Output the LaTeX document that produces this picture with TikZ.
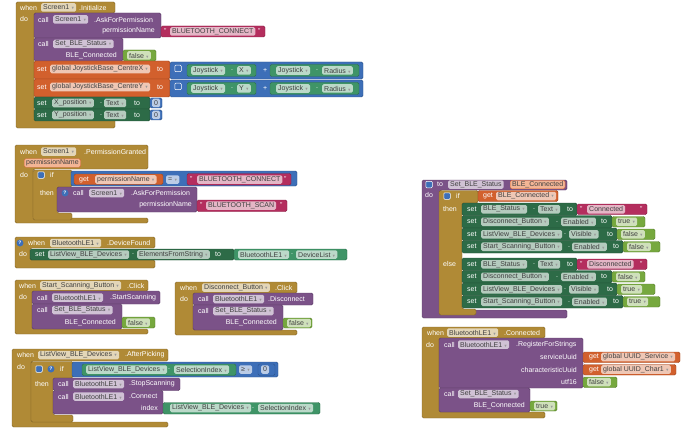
\documentclass[tikz,border=0pt]{standalone}
\usepackage{amssymb}
\usepackage{fontspec}
\setsansfont{Liberation Sans}
\usepackage{xcolor}
\usetikzlibrary{positioning}
\definecolor{evtgold}{HTML}{B08A36}
\definecolor{procpurple}{HTML}{7B5288}
\definecolor{setgreen}{HTML}{2D6B47}
\definecolor{getgreen}{HTML}{3F9467}
\definecolor{logicgreen}{HTML}{76A83E}
\definecolor{textpink}{HTML}{B42E5E}
\definecolor{mathblue}{HTML}{3D6FB8}
\definecolor{varorange}{HTML}{D2602D}
\definecolor{paramfill}{HTML}{F3B595}
\newcommand{\blkfont}{\sffamily\fontsize{7}{8}\selectfont}
\newcommand{\dd}{\hspace{2pt}{\color{black!40}\scalebox{0.55}{$\blacktriangledown$}}}

\begin{document}
\begin{tikzpicture}[
    x=1pt, y=-1pt,
    evt/.style={fill=evtgold, draw=evtgold!75!black, line width=0.4pt, rounded corners=1.5pt},
    proc/.style={evt, fill=procpurple, draw=procpurple!75!black},
    setb/.style={evt, fill=setgreen, draw=setgreen!75!black},
    getb/.style={evt, fill=getgreen, draw=getgreen!75!black},
    logic/.style={evt, fill=logicgreen, draw=logicgreen!75!black},
    txt/.style={evt, fill=textpink, draw=textpink!75!black},
    mathb/.style={evt, fill=mathblue, draw=mathblue!75!black},
    var/.style={evt, fill=varorange, draw=varorange!75!black},
    lbl/.style={text=white, font=\blkfont, inner sep=0pt, anchor=west},
    lble/.style={lbl, anchor=east},
    fld/.style={fill=white, fill opacity=0.65, text opacity=1, text=black!75, rounded corners=1.5pt, inner xsep=2pt, inner ysep=1pt, font=\blkfont, anchor=west, minimum height=8.5pt},
    prm/.style={fld, fill=paramfill, fill opacity=1, draw=varorange},
    gear/.style={fill=mathblue, draw=white, line width=0.5pt, rounded corners=1pt, minimum size=6.5pt, inner sep=0pt},
    qicon/.style={circle, fill=mathblue, text=white, font=\sffamily\bfseries\fontsize{5}{5}\selectfont, inner sep=0pt, minimum size=7pt}
]
\useasboundingbox (0,0) rectangle (690,433);

% Screen1.Initialize
\draw[evt] (16,2) -- (115,2) -- (115,13) -- (34,13) -- (34,118) -- (115,118) -- (115,128) -- (16,128) -- cycle;
\node[lbl] (a1) at (20,7.5) {when};
\node[fld] (a2) at (41,7.5) {Screen1\dd};
\node[lbl] (a3) at (79,7.5) {.Initialize};
\node[lbl] (a4) at (20,19) {do};
\draw[proc] (34,13) rectangle (161,38);
\node[lbl] (a5) at (38,19.5) {call};
\node[fld] (a6) at (53,19.5) {Screen1\dd};
\node[lbl] (a7) at (94,19.5) {.AskForPermission};
\node[lble] (a8) at (155,31) {permissionName};
\draw[txt] (161,26) rectangle (265,37);
\node[lbl] (a9) at (164,31.5) {"};
\node[fld] (a10) at (170,31.5) {BLUETOOTH\_CONNECT};
\node[lbl] (a11) at (258,31.5) {"};
\draw[proc] (34,38) rectangle (123,61);
\node[lbl] (a12) at (38,44) {call};
\node[fld] (a13) at (53,44) {Set\_BLE\_Status\dd};
\node[lble] (a14) at (117,55.5) {BLE\_Connected};
\draw[logic] (123,50) rectangle (156,61);
\node[fld] (a15) at (127,55.5) {false\dd};
\draw[var] (34,61) rectangle (170,79);
\node[lbl] (a16) at (37,69) {set};
\node[fld] (a17) at (50,69) {global JoystickBase\_CentreX\dd};
\node[lbl] (a18) at (157,69) {to};
\draw[mathb] (170,62) rectangle (363,79);
\node[gear] (a19) at (178,68.5) {};
\draw[getb] (187,64.5) rectangle (256,76.5);
\node[fld] (a20) at (191,70.5) {Joystick\dd};
\node[lbl] (a21) at (231,70.5) {.};
\node[fld] (a22) at (237,70.5) {X\dd};
\node[lbl] (a23) at (263,70.5) {+};
\draw[getb] (270,64.5) rectangle (359,76.5);
\node[fld] (a24) at (276,70.5) {Joystick\dd};
\node[lbl] (a25) at (316,70.5) {.};
\node[fld] (a26) at (322,70.5) {Radius\dd};
\draw[var] (34,79) rectangle (170,97);
\node[lbl] (a27) at (37,87) {set};
\node[fld] (a28) at (50,87) {global JoystickBase\_CentreY\dd};
\node[lbl] (a29) at (157,87) {to};
\draw[mathb] (170,80) rectangle (363,97);
\node[gear] (a30) at (178,86.5) {};
\draw[getb] (187,82.5) rectangle (256,94.5);
\node[fld] (a31) at (191,88.5) {Joystick\dd};
\node[lbl] (a32) at (231,88.5) {.};
\node[fld] (a33) at (237,88.5) {Y\dd};
\node[lbl] (a34) at (263,88.5) {+};
\draw[getb] (270,82.5) rectangle (359,94.5);
\node[fld] (a35) at (276,88.5) {Joystick\dd};
\node[lbl] (a36) at (316,88.5) {.};
\node[fld] (a37) at (322,88.5) {Radius\dd};
\draw[setb] (34,97) rectangle (150,109);
\node[lbl] (a38) at (37,103) {set};
\node[fld] (a39) at (52,103) {X\_position\dd};
\node[lbl] (a40) at (100,103) {.};
\node[fld] (a41) at (104,103) {Text\dd};
\node[lbl] (a42) at (134,103) {to};
\draw[mathb] (150,98) rectangle (162,108);
\node[fld] (a43) at (152,103) {0};
\draw[setb] (34,109) rectangle (150,121);
\node[lbl] (a44) at (37,115) {set};
\node[fld] (a45) at (52,115) {Y\_position\dd};
\node[lbl] (a46) at (100,115) {.};
\node[fld] (a47) at (104,115) {Text\dd};
\node[lbl] (a48) at (134,115) {to};
\draw[mathb] (150,110) rectangle (162,120);
\node[fld] (a49) at (152,115) {0};

% Screen1.PermissionGranted
\draw[evt] (15,145) -- (148,145) -- (148,169) -- (33,169) -- (33,218) -- (148,218) -- (148,223) -- (15,223) -- cycle;
\node[lbl] (b1) at (20,151.5) {when};
\node[fld] (b2) at (41,151.5) {Screen1\dd};
\node[lbl] (b3) at (84,151.5) {.PermissionGranted};
\node[prm] (b4) at (24,163) {permissionName};
\node[lbl] (b5) at (20,175) {do};
\draw[evt] (33,170) -- (72,170) -- (72,187) -- (57,187) -- (57,213) -- (72,213) -- (72,220) -- (33,220) -- cycle;
\node[gear] (b6) at (41,175) {};
\node[lbl] (b7) at (50,175) {if};
\node[lbl] (b8) at (40,193) {then};
\draw[mathb] (71,171) rectangle (297,186);
\draw[var] (74,174) rectangle (163,184.5);
\node[lbl] (b9) at (79,179.5) {get};
\node[fld] (b10) at (95,179.5) {permissionName\dd};
\node[fld] (b11) at (166,179.5) {=\dd};
\draw[txt] (187,173.5) rectangle (291,185);
\node[lbl] (b12) at (190,179.5) {"};
\node[fld] (b13) at (197,179.5) {BLUETOOTH\_CONNECT};
\node[lbl] (b14) at (284,179.5) {"};
\draw[proc] (57,187) rectangle (197,212);
\node[qicon] (b15) at (65,193) {?};
\node[lbl] (b16) at (73,193) {call};
\node[fld] (b17) at (89,193) {Screen1\dd};
\node[lbl] (b18) at (131,193) {.AskForPermission};
\node[lble] (b19) at (192,205) {permissionName};
\draw[txt] (197,200) rectangle (287,211.5);
\node[lbl] (b20) at (200,205.5) {"};
\node[fld] (b21) at (206,205.5) {BLUETOOTH\_SCAN};
\node[lbl] (b22) at (280,205.5) {"};

% BluetoothLE1.DeviceFound
\draw[evt] (15,237) -- (155,237) -- (155,248) -- (30,248) -- (30,260) -- (155,260) -- (155,268) -- (15,268) -- cycle;
\node[qicon] (c1) at (20,243) {?};
\node[lbl] (c2) at (28,243) {when};
\node[fld] (c3) at (50,243) {BluetoothLE1\dd};
\node[lbl] (c4) at (107,243) {.DeviceFound};
\node[lbl] (c5) at (19,254) {do};
\draw[setb] (30,249) rectangle (234,260);
\node[lbl] (c6) at (35,254.5) {set};
\node[fld] (c7) at (48,254.5) {ListView\_BLE\_Devices\dd};
\node[lbl] (c8) at (132,254.5) {.};
\node[fld] (c9) at (137,254.5) {ElementsFromString\dd};
\node[lbl] (c10) at (215,254.5) {to};
\draw[getb] (234,249) rectangle (347,260);
\node[fld] (c11) at (238,254.5) {BluetoothLE1\dd};
\node[lbl] (c12) at (291,254.5) {.};
\node[fld] (c13) at (296,254.5) {DeviceList\dd};

% Start_Scanning_Button.Click
\draw[evt] (15,280) -- (148,280) -- (148,291) -- (32,291) -- (32,329) -- (148,329) -- (148,334) -- (15,334) -- cycle;
\node[lbl] (d1) at (19,285.5) {when};
\node[fld] (d2) at (40,285.5) {Start\_Scanning\_Button\dd};
\node[lbl] (d3) at (127,285.5) {.Click};
\node[lbl] (d4) at (19,296.5) {do};
\draw[proc] (32,291) rectangle (160,304);
\node[lbl] (d5) at (37,297.5) {call};
\node[fld] (d6) at (52,297.5) {BluetoothLE1\dd};
\node[lbl] (d7) at (110,297.5) {.StartScanning};
\draw[proc] (32,304) rectangle (122,329);
\node[lbl] (d8) at (37,310) {call};
\node[fld] (d9) at (52,310) {Set\_BLE\_Status\dd};
\node[lble] (d10) at (116,322.5) {BLE\_Connected};
\draw[logic] (122,317) rectangle (155,328);
\node[fld] (d11) at (126,322.5) {false\dd};

% Disconnect_Button.Click
\draw[evt] (175,282) -- (297,282) -- (297,293) -- (193,293) -- (193,330) -- (297,330) -- (297,335) -- (175,335) -- cycle;
\node[lbl] (e1) at (180,287.5) {when};
\node[fld] (e2) at (202,287.5) {Disconnect\_Button\dd};
\node[lbl] (e3) at (275,287.5) {.Click};
\node[lbl] (e4) at (180,298.5) {do};
\draw[proc] (193,293) rectangle (313,305);
\node[lbl] (e5) at (198,299) {call};
\node[fld] (e6) at (213,299) {BluetoothLE1\dd};
\node[lbl] (e7) at (268,299) {.Disconnect};
\draw[proc] (193,305) rectangle (283,330);
\node[lbl] (e8) at (198,311) {call};
\node[fld] (e9) at (213,311) {Set\_BLE\_Status\dd};
\node[lble] (e10) at (277,323) {BLE\_Connected};
\draw[logic] (283,318) rectangle (312,328);
\node[fld] (e11) at (287,323) {false\dd};

% ListView_BLE_Devices.AfterPicking
\draw[evt] (12,349) -- (168,349) -- (168,361) -- (31,361) -- (31,422) -- (168,422) -- (168,427) -- (12,427) -- cycle;
\node[lbl] (f1) at (17,355) {when};
\node[fld] (f2) at (38,355) {ListView\_BLE\_Devices\dd};
\node[lbl] (f3) at (125,355) {.AfterPicking};
\node[lbl] (f4) at (17,366.5) {do};
\draw[evt] (31,361.5) -- (73,361.5) -- (73,378) -- (53,378) -- (53,415) -- (73,415) -- (73,422) -- (31,422) -- cycle;
\node[gear] (f5) at (39,369) {};
\node[qicon] (f6) at (51,369) {?};
\node[lbl] (f7) at (60,369) {if};
\node[lbl] (f8) at (35,384) {then};
\draw[mathb] (72,362) rectangle (278,377);
\draw[getb] (82,364) rectangle (236,375.5);
\node[fld] (f9) at (86,369.5) {ListView\_BLE\_Devices\dd};
\node[lbl] (f10) at (168,369.5) {.};
\node[fld] (f11) at (174,369.5) {SelectionIndex\dd};
\node[fld] (f12) at (239,369.5) {≥\dd};
\draw[mathb] (258,364) rectangle (275,375.5);
\node[fld] (f13) at (261,369.5) {0};
\draw[proc] (53,378) rectangle (180,390.5);
\node[lbl] (f14) at (58,384) {call};
\node[fld] (f15) at (73,384) {BluetoothLE1\dd};
\node[lbl] (f16) at (129,384) {.StopScanning};
\draw[proc] (53,390.5) rectangle (163,414);
\node[lbl] (f17) at (58,396.5) {call};
\node[fld] (f18) at (73,396.5) {BluetoothLE1\dd};
\node[lbl] (f19) at (129,396.5) {.Connect};
\node[lble] (f20) at (158,408) {index};
\draw[getb] (163,402.5) rectangle (320,414);
\node[fld] (f21) at (170,408) {ListView\_BLE\_Devices\dd};
\node[lbl] (f22) at (252,408) {.};
\node[fld] (f23) at (258,408) {SelectionIndex\dd};

% procedure Set_BLE_Status
\draw[proc] (422,180) -- (567,180) -- (567,190) -- (440,190) -- (440,310) -- (567,310) -- (567,318) -- (422,318) -- cycle;
\node[gear] (g1) at (429,184.5) {};
\node[lbl] (g2) at (437,184.5) {to};
\node[fld] (g3) at (448,184.5) {Set\_BLE\_Status};
\node[prm] (g4) at (510,184.5) {BLE\_Connected};
\node[lbl] (g5) at (425,195) {do};
\draw[evt] (439,190.5) -- (478,190.5) -- (478,203) -- (462,203) -- (462,309) -- (476,309) -- (476,315) -- (439,315) -- cycle;
\node[gear] (g6) at (447,196) {};
\node[lbl] (g7) at (456,196) {if};
\node[lbl] (g8) at (443,208.5) {then};
\node[lbl] (g9) at (443,264) {else};
\draw[var] (478,190.5) rectangle (558,201.5);
\node[lbl] (g10) at (483,196) {get};
\node[fld] (g11) at (496,196) {BLE\_Connected\dd};
\foreach \t/\s/\va/\vb/\vc/\n in {203/Connected/true/false/false/th, 258/Disconnected/false/true/true/el} {
  \draw[setb] (462,\t) rectangle (577,\t+12.5);
  \node[lbl] (s1\n) at (467,\t+6.25) {set};
  \node[fld] (p1\n) at (481,\t+6.25) {BLE\_Status\dd};
  \node[lbl] (d1\n) at (533,\t+6.25) {.};
  \node[fld] (q1\n) at (538,\t+6.25) {Text\dd};
  \node[lbl] (t1\n) at (567,\t+6.25) {to};
  \draw[txt] (577,\t+1) rectangle (647,\t+11.5);
  \node[lbl] (ql\n) at (580,\t+6.25) {"};
  \node[fld] (v1\n) at (587,\t+6.25) {\s};
  \node[lbl] (qr\n) at (640,\t+6.25) {"};
  \draw[setb] (462,\t+12.5) rectangle (612,\t+25);
  \node[lbl] (s2\n) at (467,\t+18.75) {set};
  \node[fld] (p2\n) at (481,\t+18.75) {Disconnect\_Button\dd};
  \node[lbl] (d2\n) at (556,\t+18.75) {.};
  \node[fld] (q2\n) at (561,\t+18.75) {Enabled\dd};
  \node[lbl] (t2\n) at (601,\t+18.75) {to};
  \draw[logic] (612,\t+13.5) rectangle (645,\t+24);
  \node[fld] (v2\n) at (616,\t+18.75) {\va\dd};
  \draw[setb] (462,\t+25) rectangle (617,\t+37.5);
  \node[lbl] (s3\n) at (467,\t+31.25) {set};
  \node[fld] (p3\n) at (481,\t+31.25) {ListView\_BLE\_Devices\dd};
  \node[lbl] (d3\n) at (564,\t+31.25) {.};
  \node[fld] (q3\n) at (569,\t+31.25) {Visible\dd};
  \node[lbl] (t3\n) at (607,\t+31.25) {to};
  \draw[logic] (617,\t+26) rectangle (655,\t+36.5);
  \node[fld] (v3\n) at (621,\t+31.25) {\vb\dd};
  \draw[setb] (462,\t+37.5) rectangle (623,\t+50);
  \node[lbl] (s4\n) at (467,\t+43.75) {set};
  \node[fld] (p4\n) at (481,\t+43.75) {Start\_Scanning\_Button\dd};
  \node[lbl] (d4\n) at (568,\t+43.75) {.};
  \node[fld] (q4\n) at (572,\t+43.75) {Enabled\dd};
  \node[lbl] (t4\n) at (613,\t+43.75) {to};
  \draw[logic] (623,\t+38.5) rectangle (660,\t+49);
  \node[fld] (v4\n) at (627,\t+43.75) {\vc\dd};
}

% BluetoothLE1.Connected
\draw[evt] (422,327) -- (545,327) -- (545,338) -- (439,338) -- (439,412) -- (545,412) -- (545,418) -- (422,418) -- cycle;
\node[lbl] (h1) at (427,332.5) {when};
\node[fld] (h2) at (447,332.5) {BluetoothLE1\dd};
\node[lbl] (h3) at (504,332.5) {.Connected};
\node[lbl] (h4) at (426,344.5) {do};
\draw[proc] (439,338) rectangle (583,388);
\node[lbl] (h5) at (444,344.5) {call};
\node[fld] (h6) at (458,344.5) {BluetoothLE1\dd};
\node[lbl] (h7) at (516,344.5) {.RegisterForStrings};
\node[lble] (h8) at (577,357) {serviceUuid};
\node[lble] (h9) at (577,369.5) {characteristicUuid};
\node[lble] (h10) at (577,382) {utf16};
\draw[var] (583,352) rectangle (680,362.5);
\node[lbl] (h11) at (589,357) {get};
\node[fld] (h12) at (601,357) {global UUID\_Service\dd};
\draw[var] (583,364.5) rectangle (676,375);
\node[lbl] (h13) at (589,369.5) {get};
\node[fld] (h14) at (601,369.5) {global UUID\_Char1\dd};
\draw[logic] (583,377) rectangle (617,387.5);
\node[fld] (h15) at (587,382) {false\dd};
\draw[proc] (439,388) rectangle (530,412);
\node[lbl] (h16) at (444,394) {call};
\node[fld] (h17) at (458,394) {Set\_BLE\_Status\dd};
\node[lble] (h18) at (525,406) {BLE\_Connected};
\draw[logic] (530,401) rectangle (557,411);
\node[fld] (h19) at (534,406) {true\dd};

\end{tikzpicture}
\end{document}
